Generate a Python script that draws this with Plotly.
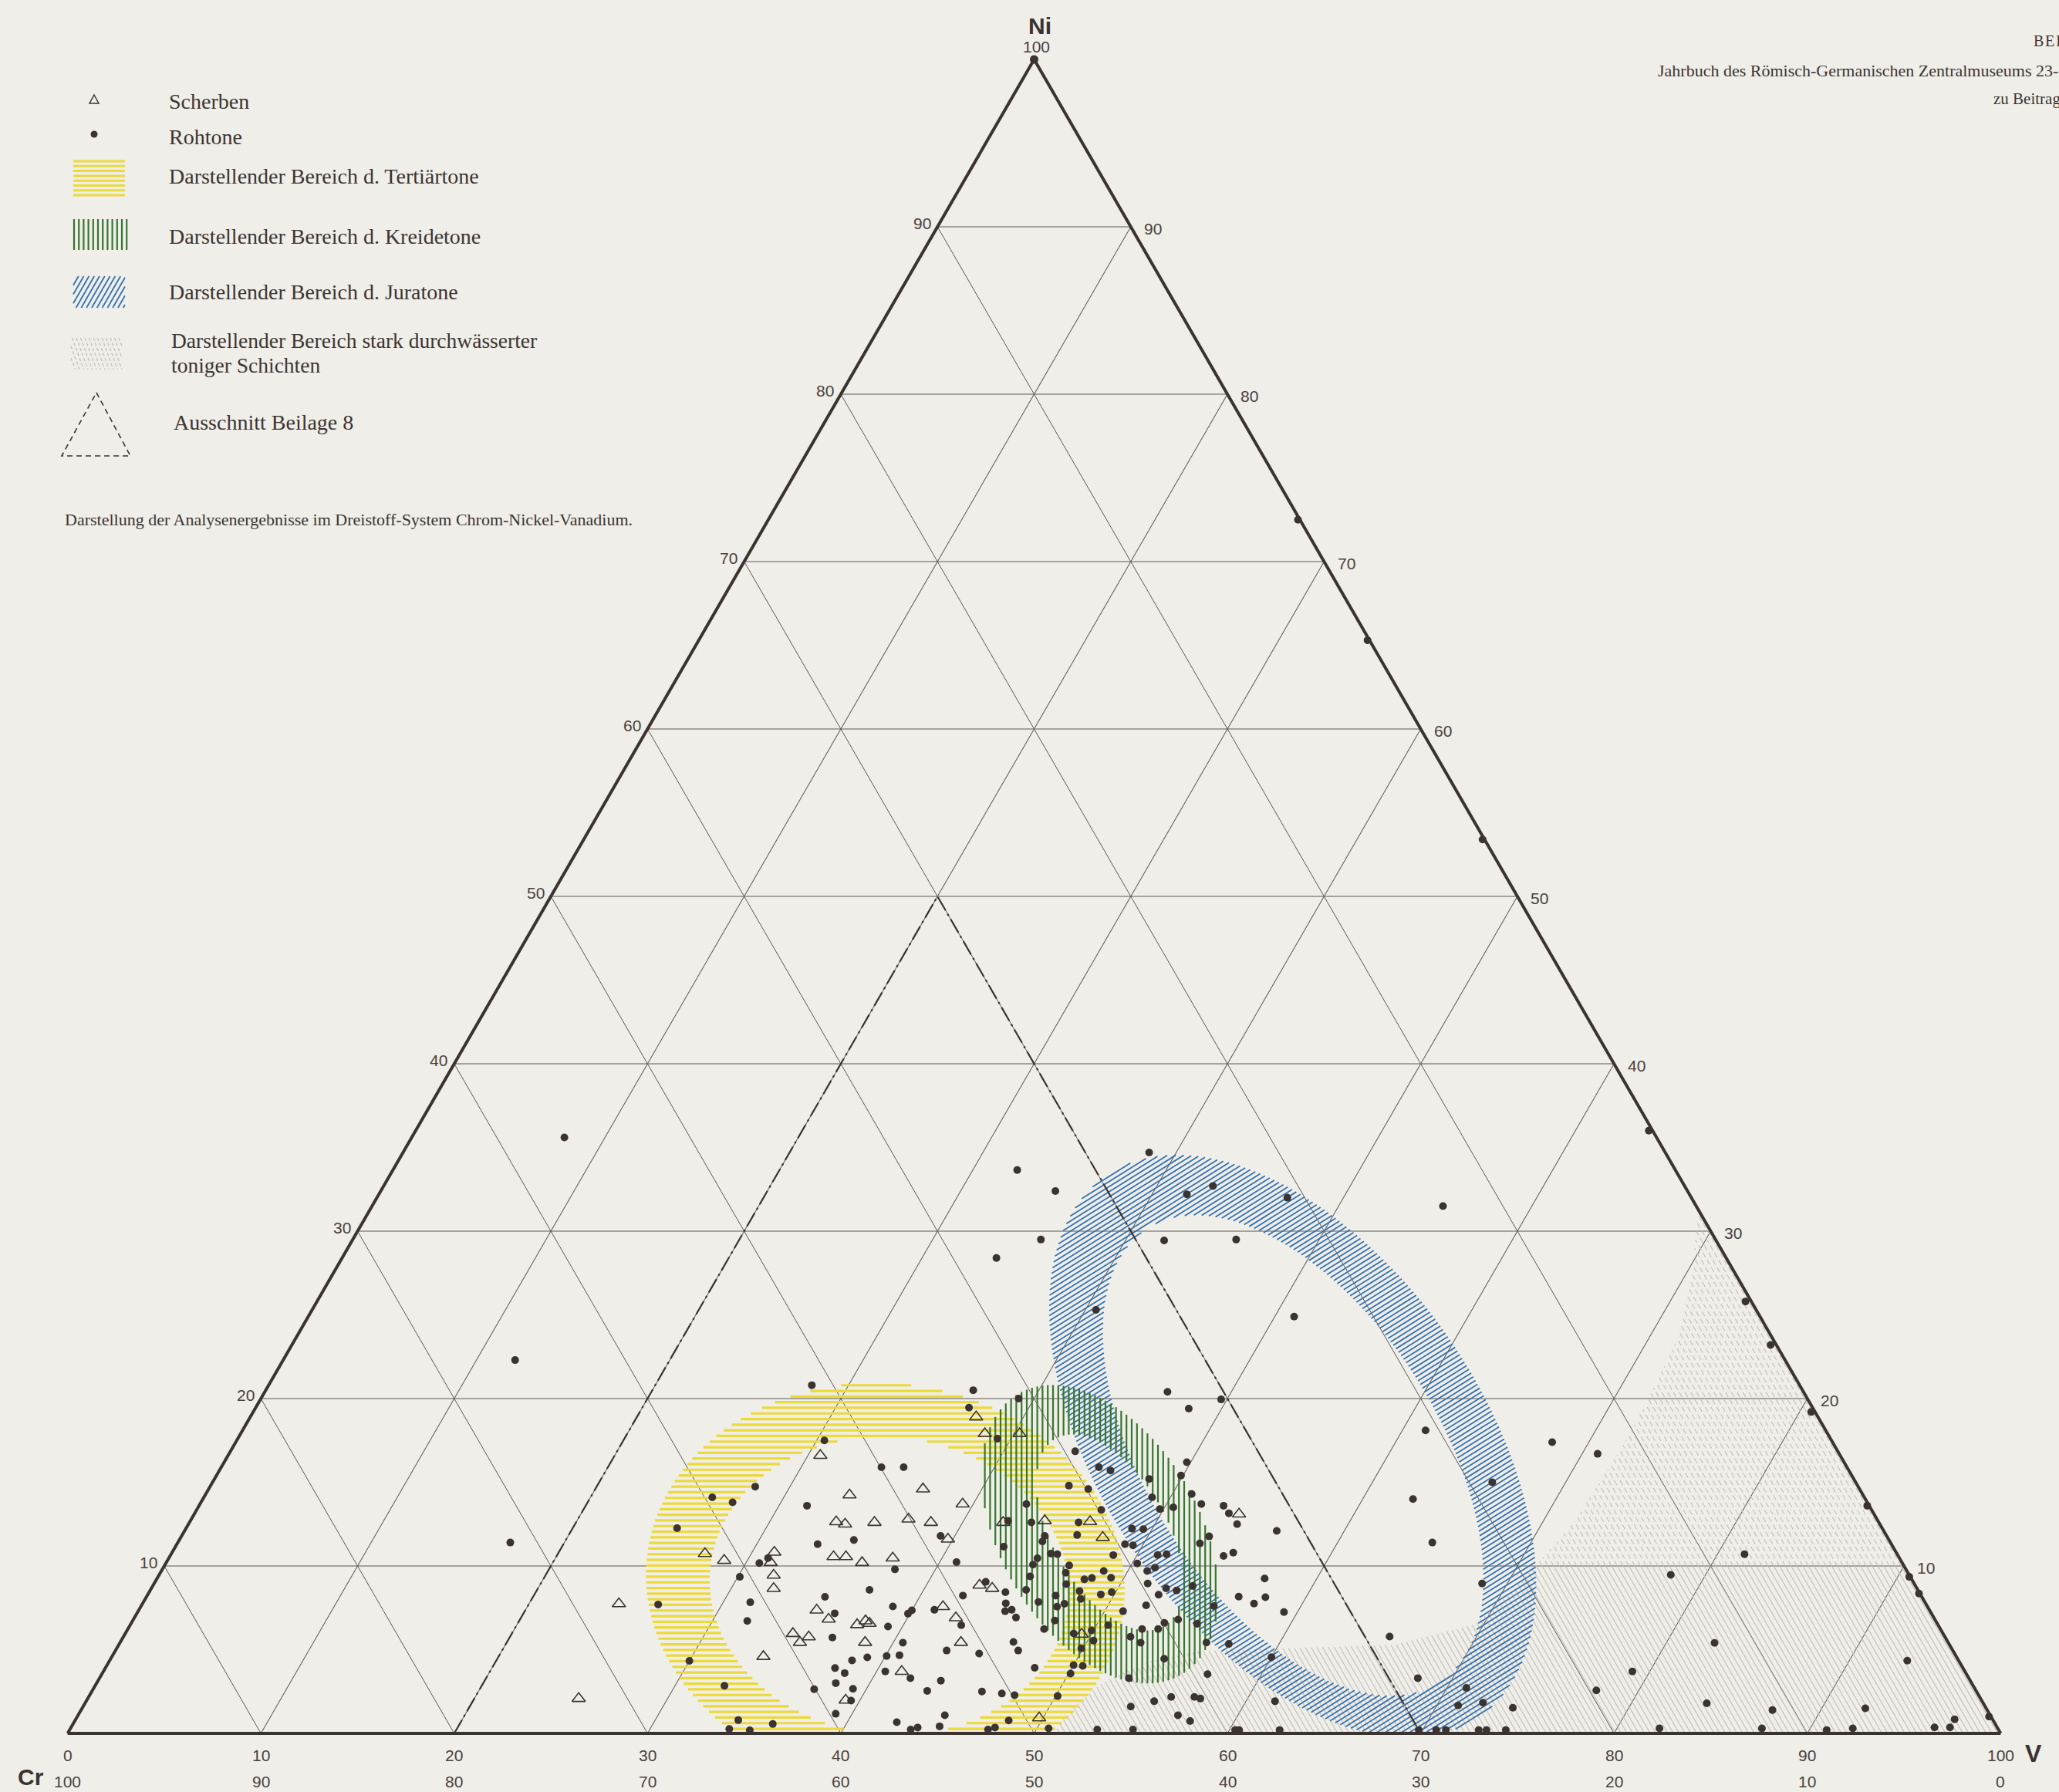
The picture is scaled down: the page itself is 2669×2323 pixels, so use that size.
import math
import plotly.graph_objects as go

W, H = 2669, 2323
BG = "#efeee9"
INK = "#3b3330"
GRID = "#5f5753"
TXT = "#4a413d"
SERIF = "Liberation Serif"
SANS = "Liberation Sans"

# ------------------------------------------------------------------ data
# Rohtone (filled dots): Ni %, V %  (Cr = 100 - Ni - V)
ROH_NI = [
    35.6, 22.3, 11.4,
    72.5, 65.3, 53.4, 36.0, 25.8, 23.2, 19.2, 13.6, 9.35, 8.35, 1.0,
    17.4, 16.7, 10.7, 9.47, 5.4, 3.7, 2.57, 1.8, 1.39, 4.34, 1.5, 0.36, 0.36, 0.84, 0.3, 0.3, 0.2, 0.3,
    34.7, 33.65, 32.4, 32.2, 32.7, 32.0, 31.5, 29.5, 28.4, 29.45, 29.5, 25.3, 24.9, 20.4,
    18.1, 15.0, 14.0, 11.4, 8.95, 12.5, 12.1, 10.8, 9.25, 8.17, 7.75, 8.13, 7.25, 5.78, 4.55, 1.92, 3.3, 2.72,
    1.67, 1.83, 1.53, 0.2, 0.2, 0.2, 0.2, 0.2, 0.2, 0.2, 0.2, 0.2,
    20.5, 20.0, 19.46, 17.6, 15.9, 19.95, 19.4, 16.85, 15.9, 15.7, 16.2,
    15.4, 15.2, 14.8, 14.6, 14.3, 13.7, 14.1, 13.4, 13.5, 13.7, 13.35, 13.6, 13.15,
    12.7, 12.6, 12.6, 11.85, 11.8, 11.46, 11.8, 12.23, 12.2, 11.3, 11.23, 11.77, 11.35, 11.15,
    10.74, 10.7, 10.46, 10.08, 10.23, 10.65, 10.66, 10.7, 10.6, 10.15, 9.7, 9.9,
    10.03, 9.6, 9.38, 9.7, 9.2, 9.28, 9.3, 8.92, 8.95, 8.66, 8.54, 8.8, 8.28,
    9.05, 8.43, 8.57, 8.5, 8.03, 8.3, 8.43, 8.23, 8.23, 7.85, 7.57, 7.74, 7.65, 7.3,
    7.6, 7.77, 7.38, 7.3, 6.92, 7.35, 7.15, 7.38, 6.46, 6.74, 6.23, 6.8, 6.6, 6.54,
    5.97, 6.15, 6.46, 6.23, 6.23, 5.54, 5.08, 5.77, 5.42, 5.43, 5.34, 5.42, 4.95, 4.77, 5.46, 4.95, 4.46,
    4.08, 4.03, 3.92, 3.3, 3.54, 3.15, 2.54, 2.5, 2.38, 2.28, 2.23, 3.57,
    1.92, 1.6, 2.18, 2.18, 2.08, 1.08, 0.74, 0.77, 0.35, 0.23, 1.08, 0.42, 0.23, 0.35, 0.3, 0.23, 0.23,
    20.8, 17.5, 15.9, 14.74, 14.1, 13.8, 13.6, 12.26, 11.3, 11.55,
    10.47, 10.17, 9.35, 9.8, 8.57, 8.16, 7.58, 7.17, 7.83, 7.7,
    6.72, 6.38, 5.73, 4.36, 4.54, 4.62, 4.67, 3.7, 3.3, 3.9,
    3.6, 3.0, 2.66, 1.96, 2.64, 1.17, 0.67, 4.33, 2.84, 0.79, 0.56, 0.26, 0.18,
]
ROH_V = [
    7.9, 12.0, 17.2,
    27.4, 34.6, 46.5, 63.8, 73.9, 76.5, 80.6, 86.3, 90.6, 91.6, 98.9,
    68.1, 70.8, 81.4, 78.2, 82.5, 79.1, 77.8, 83.9, 87.5, 93.0, 92.25, 96.4, 97.2, 97.2, 82.2, 87.5, 90.9, 92.2,
    38.6, 32.3, 34.9, 41.8, 42.9, 47.1, 55.4, 35.6, 33.85, 42.0, 45.7, 40.55, 51.0, 46.7,
    61.2, 66.2, 62.6, 64.9, 68.7, 54.25, 56.5, 54.9, 57.3, 56.5, 57.5, 57.9, 59.3, 65.5, 60.0, 61.5, 68.2, 71.0,
    71.1, 72.3, 74.0, 60.3, 60.5, 62.6, 69.8, 70.7, 71.2, 72.9, 73.3, 74.3,
    36.6, 39.2, 36.9, 39.3, 35.3, 49.7, 48.3, 43.7, 45.4, 46.1, 49.8,
    49.9, 48.35, 44.4, 45.5, 51.0, 51.8, 49.05, 49.8, 50.45, 42.75, 46.8, 53.0, 53.5,
    42.3, 43.56, 46.0, 46.3, 44.65, 44.7, 39.26, 48.95, 49.55, 49.05, 49.5, 53.17, 52.9, 42.85,
    45.5, 45.85, 44.94, 44.9, 40.87, 48.77, 51.06, 51.5, 54.5, 50.26, 51.0, 51.3,
    46.8, 46.84, 45.1, 48.75, 48.0, 48.35, 49.33, 47.2, 51.4, 52.5, 53.1, 53.8, 52.3,
    42.97, 44.3, 45.3, 48.1, 48.4, 49.3, 49.8, 42.2, 47.0, 46.3, 47.4, 47.7, 51.97, 50.95,
    55.5, 44.65, 45.15, 44.85, 45.6, 40.0, 39.9, 41.15, 43.0, 47.7, 47.4, 54.05, 53.44, 55.16,
    49.06, 49.9, 50.6, 52.47, 53.3, 50.3, 49.9, 52.1, 52.8, 56.2, 57.4, 40.5, 43.0, 44.77, 46.2, 46.7, 54.5,
    50.0, 50.5, 48.07, 53.25, 57.2, 43.6, 43.2, 46.05, 47.14, 47.85, 50.1, 50.1,
    55.25, 54.2, 56.0, 57.2, 57.56, 56.9, 57.7, 48.3, 47.8, 47.5, 44.84, 44.9, 43.5, 43.8, 50.6, 53.15, 55.0,
    28.1, 30.4, 34.15, 28.2, 26.3, 27.5, 31.45, 25.4, 33.15, 34.9,
    31.0, 30.7, 30.1, 37.9, 37.2, 35.1, 38.9, 36.1, 31.4, 26.7,
    31.8, 39.25, 36.7, 38.4, 39.1, 40.06, 40.7, 40.45, 41.95, 37.75,
    38.4, 38.24, 39.3, 39.55, 37.3, 39.15, 42.56, 30.0, 32.56, 34.3, 36.2, 34.1, 35.2,
]

# Scherben (open triangles): Ni %, V %
SCH_NI = [
    18.9, 17.9, 17.9, 14.6, 13.7, 12.8, 12.6, 11.6, 12.6, 12.7, 12.65, 11.7, 13.1, 8.85, 8.66, 7.57,
    6.9, 5.43, 3.7, 5.92, 0.92,
    16.6, 14.24, 12.64, 12.5, 12.6, 10.74, 10.33, 10.82, 10.2, 9.45, 8.65, 10.55, 10.55, 10.2, 10.47,
    7.74, 7.36, 6.82, 6.49, 6.72, 6.57, 5.96, 5.76, 5.43, 5.43, 4.59, 1.98, 2.08,
]
SCH_V = [
    37.55, 38.5, 40.3, 36.95, 39.45, 37.1, 38.36, 39.74, 42.1, 44.2, 46.57, 47.7, 54.05, 42.75, 43.5, 41.5,
    42.5, 43.5, 41.3, 49.5, 49.8,
    30.64, 33.33, 33.44, 33.97, 35.44, 27.6, 28.8, 31.15, 31.27, 31.8, 32.2, 34.35, 34.99, 36.0, 37.45,
    24.65, 35.07, 35.96, 37.6, 37.92, 38.2, 34.54, 35.46, 35.17, 38.54, 33.7, 39.26, 25.4,
]
assert len(ROH_NI) == len(ROH_V), (len(ROH_NI), len(ROH_V))
assert len(SCH_NI) == len(SCH_V), (len(SCH_NI), len(SCH_V))

TICKS = [10, 20, 30, 40, 50, 60, 70, 80, 90]
BOTTOM_TICKS = [0, 10, 20, 30, 40, 50, 60, 70, 80, 90, 100]

# "Ausschnitt Beilage 8" dashed triangle (Ni, V)
CUT_NI = [0, 50, 0]
CUT_V = [20, 20, 70]

# Hatched ranges: ring = ellipse centre (Ni, V), semi-axes (% of side), rotation (deg)
TERT_OUT = dict(ni=9.0, v=37.8, A=12.4, B=10.3, rot=-6)
TERT_IN = dict(ni=8.8, v=38.1, A=9.3, B=7.7, rot=-6)
KREIDE_OUT = dict(ni=11.9, v=47.45, A=8.4, B=5.15, rot=-60)
KREIDE_IN = dict(ni=12.0, v=47.9, A=5.6, B=2.95, rot=-60)
JURA_OUT = dict(ni=17.15, v=54.8, A=17.0, B=9.83, rot=-55.4)
JURA_IN = dict(ni=16.6, v=55.1, A=13.96, B=7.52, rot=-57.3)
# strongly watered clay layers (grey), outline Ni / V
WET_UP_NI = [10, 12.6, 16.9, 19.8, 23.4, 27.5, 31.3, 10]
WET_UP_V = [70.9, 71.6, 71.85, 71.8, 71.5, 70.3, 68.7, 90]
WET_LO_NI = [0, 1.5, 3.0, 4.2, 4.9, 5.1, 5.3, 6.5, 8.5, 10, 10, 0]
WET_LO_V = [51.0, 51.2, 52.0, 53.5, 56.0, 61.0, 66.0, 69.5, 70.5, 70.9, 90, 100]

# ------------------------------------------------------------------ geometry helpers
TRI_LEFT, TRI_RIGHT, TRI_TOP, TRI_BASE = 85, 2596, 77, 2247
SIDE_PX = (TRI_BASE - TRI_TOP) * 2 / math.sqrt(3)
X0_PX = (TRI_LEFT + TRI_RIGHT) / 2 - SIDE_PX / 2
U = 100.0 / SIDE_PX  # ternary-percent per pixel
S3 = math.sqrt(3) / 2


def cart(ni, v):
    return v + ni / 2.0, ni * S3


def tern(x, y):
    ni = y / S3
    v = x - ni / 2.0
    return ni, v, 100.0 - ni - v


def ring_pts(p, n=280):
    cx, cy = cart(p["ni"], p["v"])
    t = math.radians(p["rot"])
    out = []
    for i in range(n):
        s = 2 * math.pi * i / n
        ex, ey = p["A"] * math.cos(s), p["B"] * math.sin(s)
        out.append((cx + ex * math.cos(t) - ey * math.sin(t),
                    cy + ex * math.sin(t) + ey * math.cos(t)))
    return out


def poly_pts(nis, vs):
    return [cart(a, b) for a, b in zip(nis, vs)]


def hatch(rings, ang, spacing_px):
    sp = spacing_px * U
    phi = math.radians(ang)
    c, s = math.cos(phi), math.sin(phi)
    rot = [[(x * c + y * s, -x * s + y * c) for x, y in r] for r in rings]
    ys = [p[1] for r in rot for p in r]
    lo, hi = min(ys), max(ys)
    segs = []
    yy = lo + sp / 2
    while yy < hi:
        xs = []
        for r in rot:
            n = len(r)
            for i in range(n):
                x1, y1 = r[i]
                x2, y2 = r[(i + 1) % n]
                if (y1 <= yy < y2) or (y2 <= yy < y1):
                    xs.append(x1 + (yy - y1) * (x2 - x1) / (y2 - y1))
        xs.sort()
        for j in range(0, len(xs) - 1, 2):
            segs.append((xs[j], xs[j + 1], yy))
        yy += sp
    out = []
    for xa, xb, yv in segs:
        X1, Y1 = xa * c - yv * s, xa * s + yv * c
        X2, Y2 = xb * c - yv * s, xb * s + yv * c
        if Y1 < 0 and Y2 < 0:
            continue
        if Y1 < 0:
            t = -Y1 / (Y2 - Y1)
            X1, Y1 = X1 + t * (X2 - X1), 0.0
        elif Y2 < 0:
            t = -Y2 / (Y1 - Y2)
            X2, Y2 = X2 + t * (X1 - X2), 0.0
        out.append(((X1, Y1), (X2, Y2)))
    return out


def seg_trace(segs, color, width, dash="solid"):
    A, B, C = [], [], []
    for p1, p2 in segs:
        for x, y in (p1, p2):
            ni, v, cr = tern(x, y)
            A.append(ni)
            B.append(cr)
            C.append(v)
        A.append(None)
        B.append(None)
        C.append(None)
    return go.Scatterternary(a=A, b=B, c=C, mode="lines",
                             line=dict(color=color, width=width, dash=dash),
                             hoverinfo="skip", showlegend=False, cliponaxis=True)


YEL = "#ecd93a"
GRN = "#37762e"
BLU = "#3672b0"
GRY = "#c2beb8"

fig = go.Figure()

# grey zone
fig.add_trace(seg_trace(hatch([poly_pts(WET_LO_NI, WET_LO_V)], 120, 6.5), GRY, 1.1))
fig.add_trace(seg_trace(hatch([poly_pts(WET_UP_NI, WET_UP_V)], 120, 6.5), GRY, 1.1, "7px,4px"))
# Tertiärtone
fig.add_trace(seg_trace(hatch([ring_pts(TERT_OUT), ring_pts(TERT_IN)], 0, 7.3), YEL, 3.2))
# Juratone
fig.add_trace(seg_trace(hatch([ring_pts(JURA_OUT), ring_pts(JURA_IN)], 32, 5.6), BLU, 1.8))
# Kreidetone
fig.add_trace(seg_trace(hatch([ring_pts(KREIDE_OUT), ring_pts(KREIDE_IN)], 90, 6.8), GRN, 2.2))

# dashed section triangle
fig.add_trace(go.Scatterternary(a=CUT_NI, c=CUT_V, b=[100 - a - c for a, c in zip(CUT_NI, CUT_V)],
                                mode="lines", line=dict(color=INK, width=2.2, dash="20px,5px,3px,5px"),
                                hoverinfo="skip", showlegend=False))

# data points
fig.add_trace(go.Scatterternary(a=SCH_NI, c=SCH_V, b=[100 - a - c for a, c in zip(SCH_NI, SCH_V)],
                                mode="markers", name="Scherben",
                                marker=dict(symbol="triangle-up-open", size=15, color=INK,
                                            line=dict(width=1.6, color=INK)),
                                showlegend=False, cliponaxis=False))
fig.add_trace(go.Scatterternary(a=ROH_NI, c=ROH_V, b=[100 - a - c for a, c in zip(ROH_NI, ROH_V)],
                                mode="markers", name="Rohtone",
                                marker=dict(symbol="circle", size=10, color=INK, line=dict(width=0)),
                                showlegend=False, cliponaxis=False))
# apex marker
fig.add_trace(go.Scatterternary(a=[100], b=[0], c=[0], mode="markers",
                                marker=dict(size=11, color=INK), hoverinfo="skip",
                                showlegend=False, cliponaxis=False))

axis = dict(dtick=10, tick0=0, showticklabels=False, ticks="", showgrid=True,
            gridcolor=GRID, gridwidth=1.1, showline=True, linecolor=INK, linewidth=4,
            title=dict(text=""))

fig.update_layout(
    width=W, height=H,
    margin=dict(l=0, r=0, t=0, b=0),
    paper_bgcolor=BG, plot_bgcolor=BG,
    showlegend=False,
    ternary=dict(
        sum=100,
        bgcolor=BG,
        domain=dict(x=[TRI_LEFT / W, TRI_RIGHT / W], y=[(H - TRI_BASE) / H, (H - TRI_TOP) / H]),
        aaxis=axis, baxis=axis, caxis=axis,
    ),
)

# ------------------------------------------------------------------ legend & labels (paper coords)
shapes = []
ann = []


def X(px):
    return px / W


def Y(py):
    return 1 - py / H


def L(x0, y0, x1, y1, color, width, dash="solid"):
    shapes.append(dict(type="line", xref="paper", yref="paper",
                       x0=X(x0), y0=Y(y0), x1=X(x1), y1=Y(y1),
                       line=dict(color=color, width=width, dash=dash)))


def T(x, y, text, size, anchor="left", family=SERIF, color="#3c3431"):
    ann.append(dict(x=X(x), y=Y(y), xref="paper", yref="paper", text=text, showarrow=False,
                    xanchor=anchor, yanchor="middle",
                    font=dict(family=family, size=size, color=color)))


def tpos(ni, xp):
    # position (pixels) of a label given a Ni level and a horizontal percentage of the base
    return X0_PX + xp / 100.0 * SIDE_PX, TRI_BASE - ni * S3 / 100.0 * SIDE_PX


# edge tick labels
for k in TICKS:
    px_, py_ = tpos(k + 0.2, k / 2 - 0.8)
    T(px_, py_, str(k), 21, anchor="center", family=SANS, color=TXT)
    px_, py_ = tpos(k - 0.1, 100 - k / 2 + 1.15)
    T(px_, py_, str(k), 21, anchor="center", family=SANS, color=TXT)
for k in BOTTOM_TICKS:
    px_, py_ = tpos(-1.33, k)
    T(px_, py_, str(k), 21, anchor="center", family=SANS, color=TXT)
    px_, py_ = tpos(-2.9, k)
    T(px_, py_, str(100 - k), 21, anchor="center", family=SANS, color=TXT)
px_, py_ = tpos(100.75, 50.1)
T(px_, py_, "100", 21, anchor="center", family=SANS, color=TXT)
px_, py_ = tpos(102.0, 50.3)
T(px_, py_, "<b>Ni</b>", 30, anchor="center", family=SANS, color=INK)
px_, py_ = tpos(-1.2, 101.7)
T(px_, py_, "<b>V</b>", 32, anchor="center", family=SANS, color=INK)
px_, py_ = tpos(-2.6, -1.9)
T(px_, py_, "<b>Cr</b>", 30, anchor="center", family=SANS, color=INK)

# legend symbols
shapes.append(dict(type="path", xref="paper", yref="paper",
                   path="M %f,%f L %f,%f L %f,%f Z" % (X(122), Y(123), X(128), Y(134), X(116), Y(134)),
                   line=dict(color=INK, width=1.5)))
shapes.append(dict(type="circle", xref="paper", yref="paper",
                   x0=X(117.5), x1=X(126.5), y0=Y(178.5), y1=Y(169.5),
                   fillcolor=INK, line=dict(width=0)))
for k in range(8):
    yv = 209 + k * 6.3
    L(95, yv, 162, yv, YEL, 3)
for k in range(12):
    xv = 96 + k * 6.2
    L(xv, 284, xv, 324, GRN, 2.2)


def diag(x0, x1, ytop, ybot, dx, step, color, width, dash="solid", slash=True):
    u = x0 - dx
    while u < x1:
        if slash:
            sx, sy, ex, ey = u, ybot, u + dx, ytop
        else:
            sx, sy, ex, ey = u, ytop, u + dx, ybot
        tlo = max(0.0, (x0 - u) / dx)
        thi = min(1.0, (x1 - u) / dx)
        if tlo < thi:
            L(sx + (ex - sx) * tlo, sy + (ey - sy) * tlo,
              sx + (ex - sx) * thi, sy + (ey - sy) * thi, color, width, dash)
        u += step


diag(95, 162, 358, 399, 23.7, 6.8, BLU, 1.8, slash=True)
diag(92, 158, 438, 479, 15.0, 5.5, GRY, 1.3, dash="4px,3px", slash=False)
shapes.append(dict(type="path", xref="paper", yref="paper",
                   path="M %f,%f L %f,%f L %f,%f Z" % (X(125), Y(509), X(169), Y(591), X(80), Y(591)),
                   line=dict(color=INK, width=1.6, dash="7px,5px")))

T(217, 131, "Scherben", 28)
T(217, 177, "Rohtone", 28)
T(217, 229, "Darstellender Bereich d. Tertiärtone", 28)
T(217, 306, "Darstellender Bereich d. Kreidetone", 28)
T(217, 379, "Darstellender Bereich d. Juratone", 28)
T(220, 442, "Darstellender Bereich stark durchwässerter", 27.5)
T(220, 473, "toniger Schichten", 27.5)
T(223, 548, "Ausschnitt Beilage 8", 28)
T(82, 673, "Darstellung der Analysenergebnisse im Dreistoff-System Chrom-Nickel-Vanadium.", 22)
T(2634, 53, "B\u200aE\u200aI\u200aL\u200aA\u200aG\u200aE", 20)
T(2147, 91, "Jahrbuch des Römisch-Germanischen Zentralmuseums 23-24", 22)
T(2582, 128, "zu Beitrag", 21)

fig.update_layout(shapes=shapes, annotations=ann)
fig.write_html("out.html")
